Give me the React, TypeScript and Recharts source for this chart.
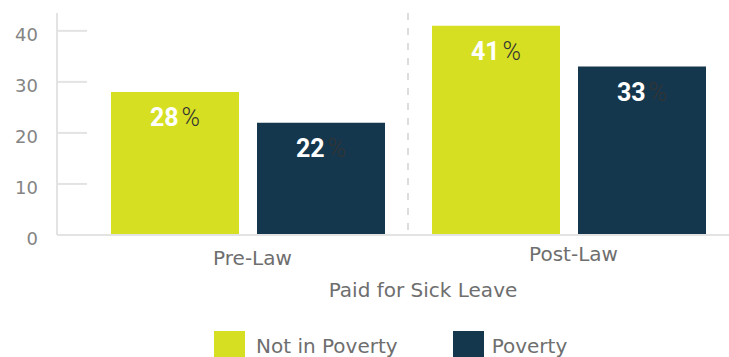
import React from "react"
import {
  BarChart,
  Bar,
  XAxis,
  YAxis,
  CartesianGrid,
  Legend,
  LabelList,
} from "recharts"

const categories = ["Pre-Law", "Post-Law"]
const notInPoverty = [28, 41]
const poverty = [22, 33]
const yTicks = [0, 10, 20, 30, 40]

const seriesNames = ["Not in Poverty", "Poverty"]
const colors = ["#d6df22", "#15374d"]

const AXIS_FONT = "'DejaVu Sans', sans-serif"
const PAD_LEFT = 30

const chartData = categories.map((name, i) => ({
  name,
  notInPoverty: notInPoverty[i],
  poverty: poverty[i],
}))

function YTick(props: any) {
  const { y, payload } = props
  return (
    <g>
      <line x1={57} x2={57 + PAD_LEFT} y1={y} y2={y} stroke="#e3e3e3" strokeWidth={2} />
      <text
        x={38}
        y={y + 10}
        textAnchor="end"
        fontSize={18}
        fontFamily={AXIS_FONT}
        fill="#848484"
      >
        {payload.value}
      </text>
    </g>
  )
}

function XTick(props: any) {
  const { x, y, payload, index } = props
  return (
    <text
      x={x + 5}
      y={y + (index === 0 ? 22 : 18)}
      textAnchor="middle"
      fontSize={20}
      fontFamily={AXIS_FONT}
      fill="#6e6e6e"
    >
      {payload.value}
    </text>
  )
}

function AxisTitle(props: any) {
  const { viewBox } = props
  return (
    <text
      x={viewBox.x + viewBox.width / 2 + PAD_LEFT}
      y={viewBox.y + 62}
      textAnchor="middle"
      fontSize={20}
      fontFamily={AXIS_FONT}
      fill="#6e6e6e"
    >
      Paid for Sick Leave
    </text>
  )
}

function PercentLabel(props: any) {
  const { x, y, width, value } = props
  return (
    <text
      x={x + width / 2}
      y={y + 34}
      textAnchor="middle"
      fontSize={25}
      fontFamily="Roboto, sans-serif"
    >
      <tspan fill="#fff" fontWeight={700}>{value}</tspan>
      <tspan fill="#333" fontWeight={300} dx={3}>%</tspan>
    </text>
  )
}

function LegendContent() {
  return (
    <div style={{ display: "flex", paddingLeft: 214, height: 26 }}>
      {seriesNames.map((name, i) => (
        <div
          key={name}
          style={{ display: "flex", alignItems: "center", marginRight: i === 0 ? 55 : 0 }}
        >
          <div style={{ width: 31, height: 26, background: colors[i] }} />
          <span
            style={{
              marginLeft: i === 0 ? 11 : 8,
              fontSize: 20,
              fontFamily: AXIS_FONT,
              color: "#6e6e6e",
              lineHeight: "26px",
              paddingTop: 4,
            }}
          >
            {name}
          </span>
        </div>
      ))}
    </div>
  )
}

export default function App() {
  return (
    <div style={{ width: 729, height: 357 }}>
      <style>{`body{margin:0}`}</style>
      <BarChart
        width={729}
        height={357}
        data={chartData}
        margin={{ top: 13, right: 0, left: 0, bottom: 0 }}
        barSize={128}
        barGap={18}
      >
        <CartesianGrid
          horizontal={false}
          stroke="#dddddd"
          strokeWidth={2}
          strokeDasharray="7 8"
          verticalCoordinatesGenerator={({ offset }: any) => [
            offset.left + PAD_LEFT + (offset.width - PAD_LEFT) / 2,
          ]}
        />
        <XAxis
          dataKey="name"
          padding={{ left: PAD_LEFT, right: 0 }}
          axisLine={{ stroke: "#e3e3e3", strokeWidth: 2 }}
          tickLine={false}
          height={96}
          tick={<XTick />}
          label={<AxisTitle />}
        />
        <YAxis
          width={57}
          domain={[0, 43.5]}
          ticks={yTicks}
          axisLine={{ stroke: "#e3e3e3", strokeWidth: 2 }}
          tickLine={false}
          tick={<YTick />}
        />
        <Legend
          verticalAlign="bottom"
          wrapperStyle={{ left: 0, width: 729 }}
          content={() => <LegendContent />}
        />
        <Bar dataKey="notInPoverty" name={seriesNames[0]} fill={colors[0]} isAnimationActive={false}>
          <LabelList dataKey="notInPoverty" content={<PercentLabel />} />
        </Bar>
        <Bar dataKey="poverty" name={seriesNames[1]} fill={colors[1]} isAnimationActive={false}>
          <LabelList dataKey="poverty" content={<PercentLabel />} />
        </Bar>
      </BarChart>
    </div>
  )
}
